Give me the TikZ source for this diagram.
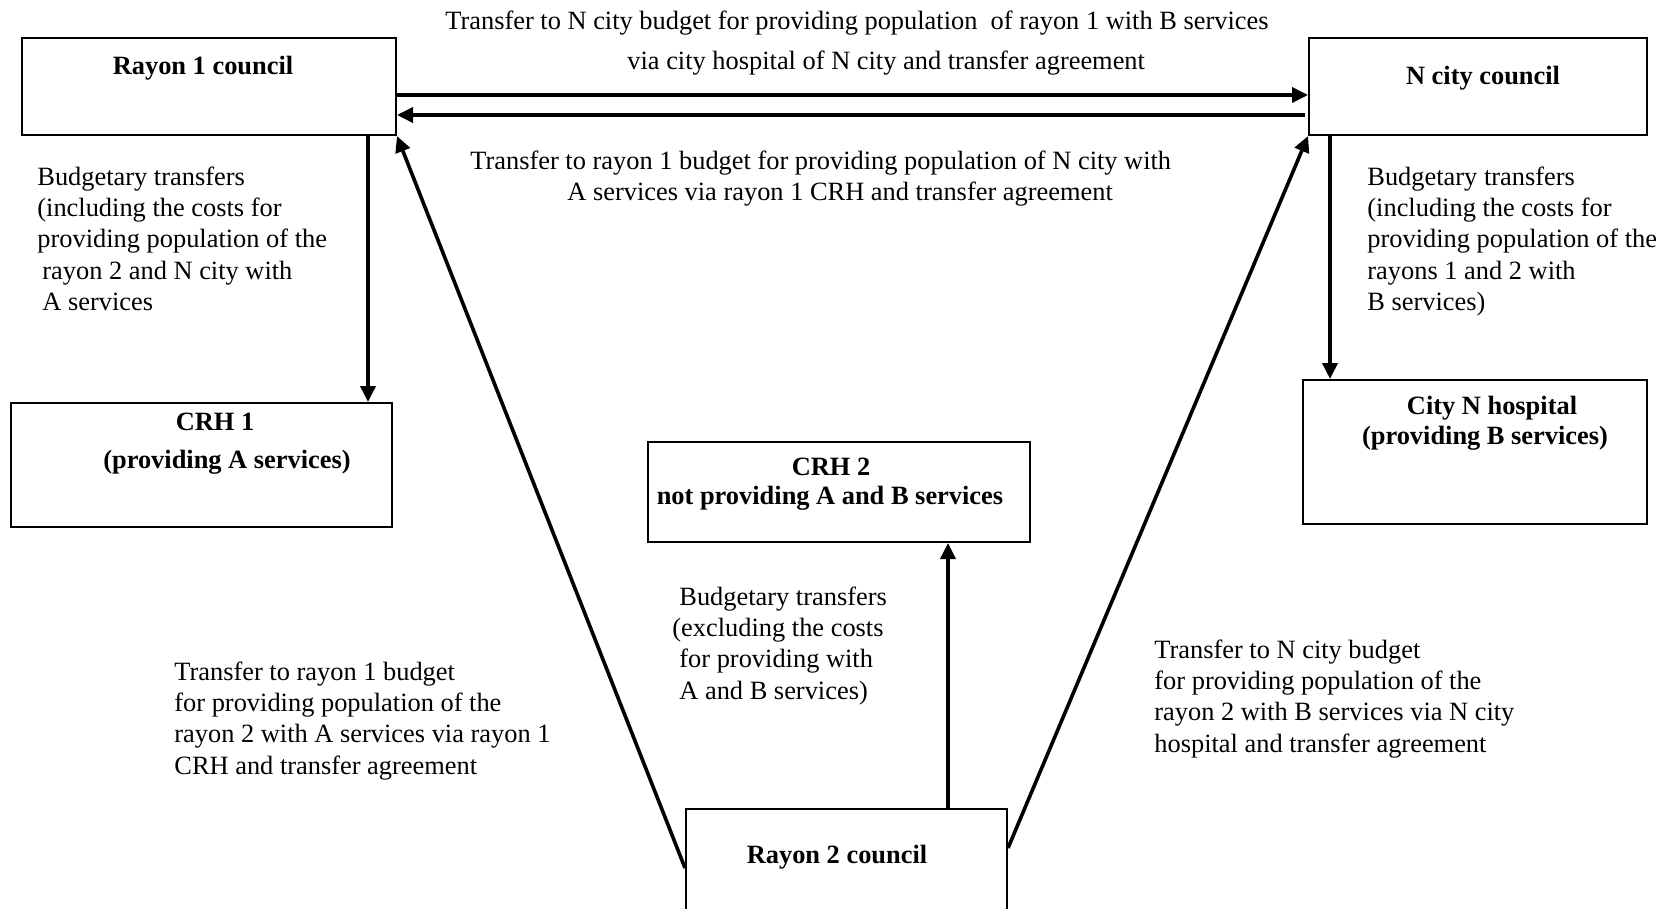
\documentclass[tikz,border=0pt]{standalone}
\usepackage{fontspec}
\setmainfont{Liberation Serif}
\usetikzlibrary{arrows.meta}

\tikzset{
	blk/.style={draw, line width=1pt, inner sep=0pt},
	ttl/.style={font=\fontsize{13.2}{15.6}\selectfont\bfseries, anchor=base, inner sep=0pt},
	txt/.style={font=\fontsize{13.2}{15.6}\selectfont, anchor=base west, inner sep=0pt},
	blocktxt/.style={font=\fontsize{13.2}{15.6}\selectfont, anchor=north west, align=left, inner sep=0pt},
	flow/.style={line width=1.8pt, -{Triangle[length=8pt,width=7.5pt]}},
}

\begin{document}
\begin{tikzpicture}[x=0.5pt,y=-0.5pt]

		\useasboundingbox (0,0) rectangle (1663,909);
		
		% boxes
		\node [blk, minimum width=187pt, minimum height=48.5pt] (r1) at (209,86.5) {};
		\node [blk, minimum width=169pt, minimum height=48.5pt] (nc) at (1478,86.5) {};
		\node [blk, minimum width=190.5pt, minimum height=62pt] (crh1) at (201.5,465) {};
		\node [blk, minimum width=172pt, minimum height=72pt] (hosp) at (1475,452) {};
		\node [blk, minimum width=191pt, minimum height=50pt] (crh2) at (839,492) {};
		\node [blk, minimum width=160.5pt, minimum height=53pt] (r2) at (846.5,862) {};
		
		\node [ttl] (r1t) at (203,75) {Rayon 1 council};
		\node [ttl] (nct) at (1483,85) {N city council};
		\node [ttl] (crh1t) at (215,430) {CRH 1};
		\node [ttl] (crh1s) at (227,468) {(providing A services)};
		\node [ttl] (crh2t) at (831,475) {CRH 2};
		\node [ttl] (crh2s) at (830,504) {not providing A and B services};
		\node [ttl] (hospt) at (1492,414) {City N hospital};
		\node [ttl] (hosps) at (1485,444) {(providing B services)};
		\node [ttl] (r2t) at (837,863) {Rayon 2 council};
		
		% arrows
		\draw [flow] (r1.east |- 0,95) -- (nc.west |- 0,95);
		\draw [flow] (1305,115) -- (r1.east |- 0,115);
		\draw [flow] (r1.south -| 368,0) -- (crh1.north -| 368,0);
		\draw [flow] (nc.south -| 1330,0) -- (hosp.north -| 1330,0);
		\draw [flow] (r2.west |- 0,868) -- (r1.south east);
		\draw [flow] (r2.east |- 0,848) -- (nc.south west);
		\draw [flow] (r2.north -| 948,0) -- (crh2.south -| 948,0);
		
		% labels
		\node [txt] (top1) at (445,30) {Transfer to N city budget for providing population\ \ of rayon 1 with B services};
		\node [txt] (top2) at (627,69.5) {via city hospital of N city and transfer agreement};
		\node [txt] (mid1) at (470,170) {Transfer to rayon 1 budget for providing population of N city with};
		\node [txt] (mid2) at (567,201) {A services via rayon 1 CRH and transfer agreement};
		
		\node [blocktxt] (lb) at (37,163.2) {\strut Budgetary transfers\\(including the costs for\\providing population of the\\\hspace*{2.5pt}rayon 2 and N city with\\\hspace*{2.5pt}A services};
		\node [blocktxt] (rb) at (1367,163.2) {\strut Budgetary transfers\\(including the costs for\\providing population of the\\rayons 1 and 2 with\\B services)};
		\node [blocktxt] (cb) at (672,583.2) {\strut\hspace*{3.5pt}Budgetary transfers\\(excluding the costs\\\hspace*{3.5pt}for providing with\\\hspace*{3.5pt}A and B services)};
		\node [blocktxt] (lbb) at (174,658.2) {\strut Transfer to rayon 1 budget\\for providing population of the\\rayon 2 with A services via rayon 1\\CRH and transfer agreement};
		\node [blocktxt] (rbb) at (1154,636.2) {\strut Transfer to N city budget\\for providing population of the\\rayon 2 with B services via N city\\hospital and transfer agreement};
		
\end{tikzpicture}
\end{document}
